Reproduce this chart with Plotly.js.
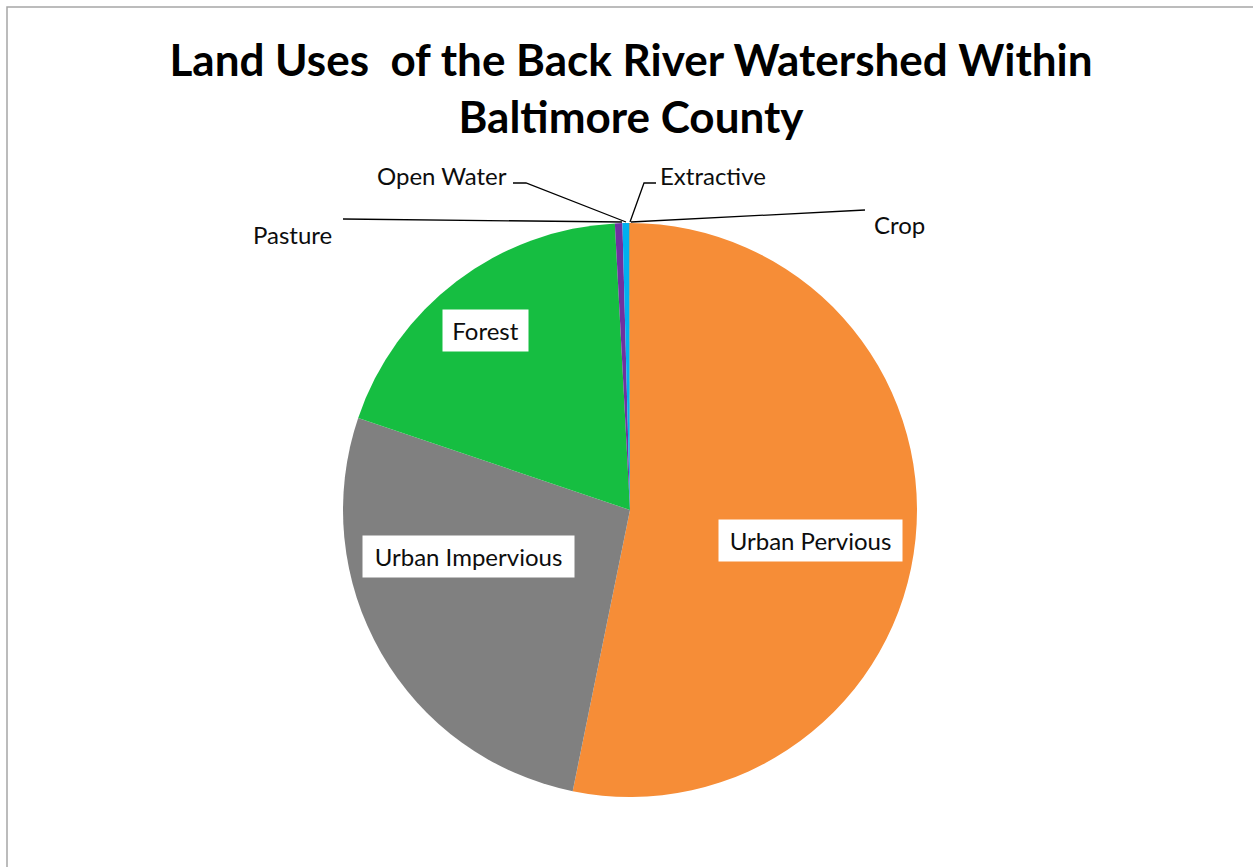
<!DOCTYPE html>
<html>
<head>
<meta charset="utf-8">
<script src="https://cdn.plot.ly/plotly-3.0.1.min.js"></script>
<style>
  html, body { margin: 0; padding: 0; background: #ffffff; }
  #chart { width: 1253px; height: 867px; }
</style>
</head>
<body>
<div id="chart"></div>
<script>
// ---- Data ----
const categories = ["Urban Pervious", "Urban Impervious", "Forest", "Pasture", "Open Water", "Extractive", "Crop"];
const shares = [53.2, 27.0, 18.96, 0.42, 0.37, 0.02, 0.03];
const sliceColors = ["#F68D37", "#808080", "#16BE41", "#7030A0", "#00B0F0", "#C9A227", "#8B5A2B"];
const titleLines = ["Land Uses \u00A0of the Back River Watershed Within", "Baltimore County"];

// ---- Layout helpers ----
const W = 1253, H = 867;
const px = (x) => x / W;
const py = (y) => 1 - y / H;

const FONT = "Lato, 'Open Sans', 'Liberation Sans', sans-serif";
const LABEL_SIZE = 24;

// Label placement (pixel positions of the label boxes)
const inside = {
  "Urban Pervious":   {x: 810.5, y: 540.5, w: 183, h: 41},
  "Urban Impervious": {x: 468.5, y: 556.5, w: 211, h: 41},
  "Forest":           {x: 485.5, y: 330.5, w: 85,  h: 41}
};
const outside = {
  "Pasture":    {x: 292.5, y: 234},
  "Open Water": {x: 442.5, y: 176},
  "Extractive": {x: 713,   y: 176},
  "Crop":       {x: 899,   y: 224}
};
const leaders = {
  "Pasture":    [[343, 219], [622, 222]],
  "Open Water": [[513, 183], [526, 183], [626, 222]],
  "Extractive": [[656, 183], [644, 183], [630, 222]],
  "Crop":       [[631, 222], [865, 210]]
};

const annotations = [];
categories.forEach((c) => {
  if (inside[c]) {
    const p = inside[c];
    annotations.push({
      text: c, xref: "paper", yref: "paper", x: px(p.x), y: py(p.y),
      xanchor: "center", yanchor: "middle", showarrow: false,
      width: p.w, height: p.h, bgcolor: "#ffffff", borderpad: 0,
      font: {family: FONT, size: LABEL_SIZE, color: "#0d0d0d"}
    });
  } else if (outside[c]) {
    const p = outside[c];
    annotations.push({
      text: c, xref: "paper", yref: "paper", x: px(p.x), y: py(p.y),
      xanchor: "center", yanchor: "middle", showarrow: false,
      font: {family: FONT, size: LABEL_SIZE, color: "#0d0d0d"}
    });
  }
});

const shapes = [];
Object.keys(leaders).forEach((k) => {
  const pts = leaders[k];
  const d = pts.map((p, i) => (i === 0 ? "M" : "L") + px(p[0]) + "," + py(p[1])).join(" ");
  shapes.push({type: "path", xref: "paper", yref: "paper", path: d,
               line: {color: "#000000", width: 1.3}});
});
// chart-area border
shapes.push({type: "rect", xref: "paper", yref: "paper",
             x0: px(7), x1: px(W + 10), y0: py(H + 10), y1: py(7),
             line: {color: "#A6A6A6", width: 1.5}, fillcolor: "rgba(0,0,0,0)"});

const trace = {
  type: "pie",
  labels: categories,
  values: shares,
  sort: false,
  direction: "clockwise",
  rotation: 0,
  textinfo: "none",
  hoverinfo: "label+percent",
  marker: {colors: sliceColors, line: {width: 0}},
  domain: {x: [px(343), px(917)], y: [py(797), py(223)]},
  showlegend: false
};

const layout = {
  width: W, height: H,
  margin: {l: 0, r: 0, t: 0, b: 0},
  paper_bgcolor: "#ffffff",
  showlegend: false,
  title: {
    text: titleLines.join("<br>"),
    font: {family: FONT, size: 44, color: "#000000", weight: 700},
    x: px(631), xanchor: "center",
    y: py(76), yref: "container", yanchor: "top"
  },
  annotations: annotations,
  shapes: shapes
};

Plotly.newPlot("chart", [trace], layout, {displayModeBar: false, staticPlot: true});
</script>
</body>
</html>
